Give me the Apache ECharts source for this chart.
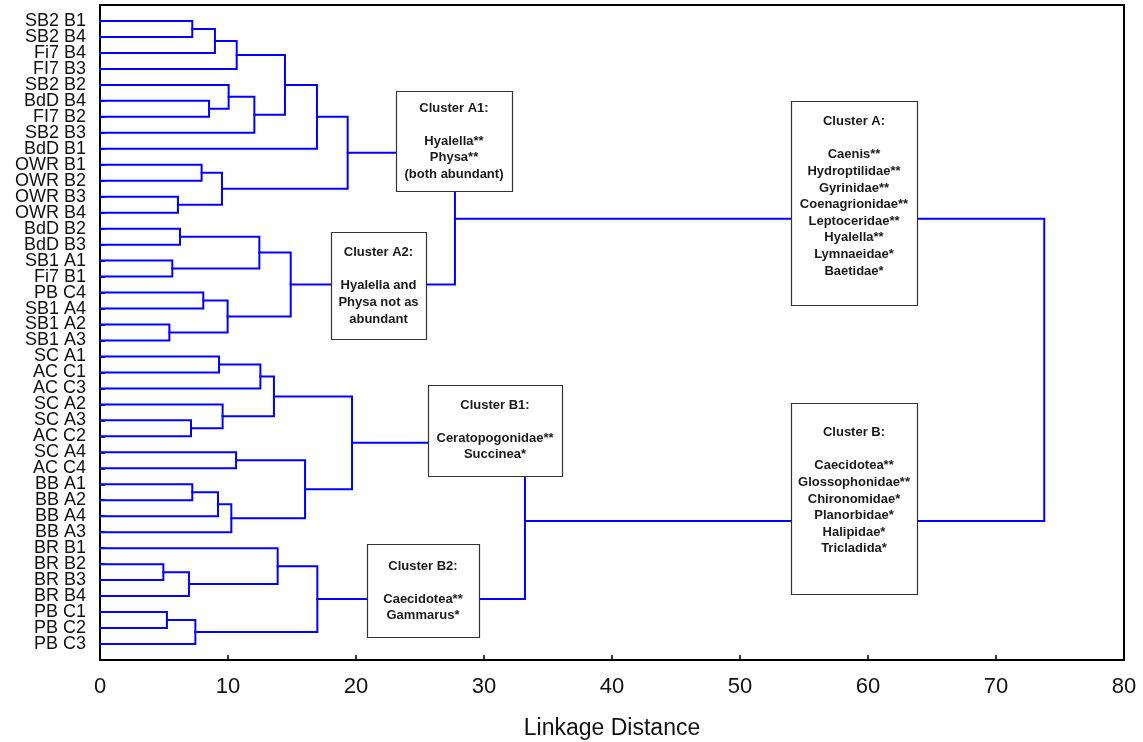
<!DOCTYPE html>
<html>
<head>
<meta charset="utf-8">
<script src="https://cdn.jsdelivr.net/npm/echarts@6/dist/echarts.min.js"></script>
<style>
html,body{margin:0;padding:0;background:#fff;}
#chart{width:1143px;height:742px;}
</style>
</head>
<body>
<div id="chart"></div>
<script>
// Leaf labels, top to bottom
var leaves = [
  'SB2 B1','SB2 B4','Fi7 B4','FI7 B3','SB2 B2','BdD B4','FI7 B2','SB2 B3','BdD B1',
  'OWR B1','OWR B2','OWR B3','OWR B4',
  'BdD B2','BdD B3','SB1 A1','Fi7 B1','PB C4','SB1 A4','SB1 A2','SB1 A3',
  'SC A1','AC C1','AC C3','SC A2','SC A3','AC C2','SC A4','AC C4',
  'BB A1','BB A2','BB A4','BB A3',
  'BR B1','BR B2','BR B3','BR B4',
  'PB C1','PB C2','PB C3'
];
// Merge steps: child a, child b, linkage distance; new nodes numbered from 40 in order
var mergeA = [0,40,41,5,4,44,42,46,9,11,48,47,13,15,52,17,19,55,54,51,21,60,25,24,61,27,29,66,67,65,64,34,71,33,37,74,73,70,59];
var mergeB = [1,2,3,6,43,7,45,8,10,12,49,50,14,16,53,18,20,56,57,58,22,23,26,62,63,28,30,31,32,68,69,35,36,72,38,39,75,76,77];
var mergeHeight = [7.21,8.98,10.68,8.52,10.05,12.06,14.45,16.95,7.94,6.09,9.53,19.35,6.25,5.65,12.45,8.07,5.42,9.97,14.9,27.73,9.30,12.53,7.11,9.58,13.59,10.63,7.21,9.22,10.26,16.02,19.69,4.95,6.95,13.88,5.23,7.45,16.98,33.2,73.77];
// x-axis ticks
var xTicks = [0,10,20,30,40,50,60,70,80];

// Cluster annotation boxes
var boxes = [
  {x:396, y:91,  w:116, h:100, first:108,   lines:['Cluster A1:','','Hyalella**','Physa**','(both abundant)']},
  {x:331, y:232, w:95,  h:107, first:252.7, lines:['Cluster A2:','','Hyalella and','Physa not as','abundant']},
  {x:428, y:385, w:134, h:91,  first:405,   lines:['Cluster B1:','','Ceratopogonidae**','Succinea*']},
  {x:367, y:544, w:112, h:93,  first:566,   lines:['Cluster B2:','','Caecidotea**','Gammarus*']},
  {x:791, y:101, w:126, h:204, first:121.7, lines:['Cluster A:','','Caenis**','Hydroptilidae**','Gyrinidae**','Coenagrionidae**','Leptoceridae**','Hyalella**','Lymnaeidae*','Baetidae*']},
  {x:791, y:403, w:126, h:191, first:432.7, lines:['Cluster B:','','Caecidotea**','Glossophonidae**','Chironomidae*','Planorbidae*','Halipidae*','Tricladida*']}
];

var n = leaves.length;
var nodeY = [], nodeH = [];
for (var i = 0; i < n; i++) { nodeY.push(i); nodeH.push(0); }
var segs = [];
for (var k = 0; k < mergeA.length; k++) {
  var a = mergeA[k], b = mergeB[k], h = mergeHeight[k];
  segs.push({coords: [[nodeH[a], nodeY[a]], [h, nodeY[a]], [h, nodeY[b]], [nodeH[b], nodeY[b]]]});
  nodeY.push((nodeY[a] + nodeY[b]) / 2);
  nodeH.push(h);
}

var FONT = '"Liberation Sans", Arial, Helvetica, sans-serif';
var LH = 16.6;
var graphics = [];
boxes.forEach(function (bx) {
  graphics.push({
    type: 'rect', z: 100,
    shape: {x: bx.x + 0.5, y: bx.y + 0.5, width: bx.w, height: bx.h},
    style: {fill: '#fff', stroke: '#333', lineWidth: 1.2}
  });
  graphics.push({
    type: 'text', z: 101,
    x: bx.x + bx.w / 2, y: bx.first - LH / 2,
    style: {
      text: bx.lines.join('\n'), fill: '#1a1a1a',
      fontFamily: FONT, fontSize: 13, fontWeight: 'bold',
      align: 'center', verticalAlign: 'top', lineHeight: LH
    }
  });
});

var chart = echarts.init(document.getElementById('chart'), null, {renderer: 'canvas'});
chart.setOption({
  animation: false,
  backgroundColor: '#fff',
  grid: {left: 100, top: 5, width: 1024, height: 655, show: true, borderColor: '#000', borderWidth: 2,
         containLabel: false, outerBoundsMode: 'none'},
  xAxis: {
    type: 'value', min: xTicks[0], max: xTicks[xTicks.length - 1], interval: 10,
    name: 'Linkage Distance', nameLocation: 'middle', nameGap: 57,
    nameTextStyle: {fontFamily: FONT, fontSize: 23, color: '#111'},
    axisLine: {onZero: false, lineStyle: {color: '#000', width: 2}},
    axisTick: {inside: true, length: 5, lineStyle: {color: '#000', width: 1.5}},
    axisLabel: {fontFamily: FONT, fontSize: 22, color: '#111', margin: 16},
    splitLine: {show: false}
  },
  yAxis: {
    type: 'value', inverse: true, min: -1, max: n, interval: 1,
    axisLine: {onZero: false, lineStyle: {color: '#000', width: 2}},
    axisTick: {inside: true, length: 5, lineStyle: {color: '#000', width: 1.5}},
    axisLabel: {
      fontFamily: FONT, fontSize: 18, color: '#111', margin: 14,
      formatter: function (v) { return (v >= 0 && v < n && Math.round(v) === v) ? leaves[v] : ''; }
    },
    splitLine: {show: false}
  },
  series: [{
    type: 'lines', coordinateSystem: 'cartesian2d', polyline: true,
    silent: true, z: 5,
    lineStyle: {color: '#0000ff', width: 2, opacity: 1, curveness: 0, join: 'miter', cap: 'square'},
    data: segs
  }],
  graphic: graphics
});
</script>
</body>
</html>
